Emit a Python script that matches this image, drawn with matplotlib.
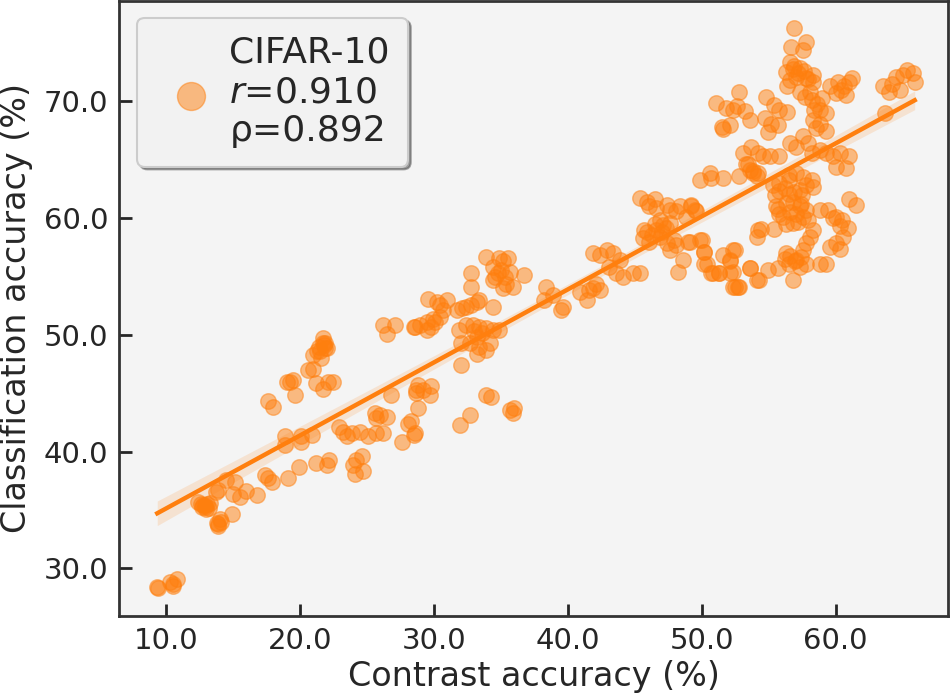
import numpy as np
import matplotlib
matplotlib.use("Agg")
import matplotlib.pyplot as plt

# ---- data (contrast acc, classification acc) ----
contrast_acc = [
    9.35, 10.3, 10.55, 10.8, 10.5, 9.4,
    12.4, 12.8, 13.0, 13.3, 12.9, 12.7, 13.1, 12.9, 13.2, 12.6,
    13.8, 14.0, 13.9, 14.9, 13.9, 14.1,
    13.7, 13.9,
    14.5, 15.15, 15.0, 15.5, 16.0, 16.8,
    17.4, 17.6, 17.9, 19.1, 19.9,
    21.2, 22.0, 22.2,
    24.0, 24.2, 24.6, 24.7, 24.1,
    18.9, 18.9, 20.1, 20.1, 20.9,
    22.9, 23.2, 23.5, 23.9, 24.5, 25.1, 25.7, 26.2,
    25.6, 26.0, 26.5, 25.7,
    26.8, 27.6, 28.1, 28.5, 28.7,
    26.2, 26.5, 27.1, 28.6,
    17.6, 18.0,
    19.25, 19.5, 19.6, 19.0,
    20.6, 21.0, 21.2, 21.7, 22.1, 22.5,
    21.0, 21.4, 21.7, 22.0, 21.6, 21.9, 21.8, 21.5, 21.7, 21.9, 21.3,
    # middle
    28.5, 29.0, 29.5, 29.95, 29.5, 29.8,
    29.6, 30.2, 30.45, 30.7, 30.95, 30.45, 30.1,
    31.7, 32.1, 32.4, 32.8, 33.2, 33.4, 34.4,
    32.8, 32.8,
    33.9, 34.4, 34.9, 35.2, 35.55, 35.7, 35.9, 36.7, 34.8, 35.4, 35.2, 34.4,
    35.0, 35.3, 34.6,
    31.9, 32.4, 32.9, 33.4, 33.9, 34.4, 34.9, 33.2, 32.7, 33.4, 33.9, 32.05, 33.2, 34.2,
    33.6, 33.0,
    32.05,
    38.4, 38.2, 38.9, 39.5, 40.9,
    28.8, 28.7, 29.2, 29.7, 29.8, 28.8, 28.3, 28.6,
    33.9, 34.3,
    32.7, 31.95,
    35.7, 36.0, 35.9,
    # 40-55
    49.85, 50.6, 50.7, 51.6, 52.8, 53.3, 53.8, 54.1,
    45.4, 45.9, 46.5, 46.6, 46.1,
    47.4, 47.6, 48.1, 49.2, 49.6, 48.85,
    46.9, 47.1, 46.6, 47.6, 45.7, 45.6, 46.1, 46.9, 47.4, 47.9, 48.1, 47.6,
    46.5, 47.0, 46.3, 47.3, 45.9,
    49.1, 50.0, 50.2, 50.4, 48.6, 48.2, 51.6, 52.3, 52.1, 50.85, 51.3, 52.1, 52.3, 52.8, 53.6, 54.1,
    41.9, 42.4, 42.9, 43.4, 43.9, 43.1, 43.6, 44.1, 44.9, 45.4, 42.1, 41.6, 42.4, 41.4, 41.9,
    39.65,
    # upper right
    56.9, 57.8, 57.55, 56.7,
    56.6, 56.9, 56.3, 57.3, 57.05, 57.8, 58.3, 58.3, 56.4,
    56.8, 57.2, 57.6, 57.9, 56.6, 58.1, 58.6, 59.0,
    51.1, 51.8, 52.3, 52.8, 52.6, 53.2, 53.6, 51.5, 52.1, 51.6,
    54.8, 55.4, 55.8, 56.4, 54.7, 55.2, 54.95, 55.7,
    57.3, 57.7, 58.2, 58.4, 58.8, 59.3, 58.3, 58.8, 58.55, 59.3,
    59.6, 60.2, 60.6, 61.2, 60.8, 60.0, 61.0, 60.4,
    63.5, 64.0, 64.5, 64.8, 65.3, 65.75, 65.9, 64.2, 65.0,
    63.65,
    53.45, 53.6, 53.1, 53.7, 54.2, 54.6, 55.1, 55.8, 53.8, 54.2,
    56.6, 57.05, 57.55, 57.9, 58.2, 58.8, 59.3,
    59.8, 60.3, 61.0, 60.05, 60.8,
    55.3, 55.8, 56.55, 57.05, 57.55, 58.2, 55.8, 56.55, 57.3, 57.8, 58.3,
    55.55, 55.8, 56.3, 56.8, 57.3, 57.8, 56.05, 56.8, 57.55, 57.9, 57.05,
    55.5, 56.2, 56.9, 57.5, 55.7, 56.6, 57.4, 56.3, 57.2, 56.5,
    58.8, 59.4, 60.05, 60.5, 61.0, 61.5, 60.9, 60.3, 59.8,
    54.2, 54.1, 54.45, 55.4, 58.05, 57.8, 57.55, 58.3, 59.55, 60.05, 60.55, 60.3,
    56.3, 56.55, 57.05, 57.3, 56.8, 57.8, 58.8, 59.3,
    56.2, 56.6, 57.0, 57.4,
    53.6, 54.3, 54.95, 55.7,
    52.1, 52.5, 52.3, 52.5, 52.7, 51.3, 50.7, 50.2, 50.2, 49.85,
    48.4, 49.2, 49.5, 49.0,
]
classification_acc = [
    28.4, 28.85, 28.5, 29.1, 28.7, 28.3,
    35.7, 35.4, 35.1, 35.6, 35.4, 35.3, 35.5, 35.3, 35.2, 35.5,
    33.9, 34.2, 33.6, 34.7, 33.8, 34.0,
    36.5, 36.7,
    37.6, 37.4, 36.4, 36.1, 36.6, 36.3,
    38.0, 37.7, 37.4, 37.7, 38.7,
    39.0, 38.85, 39.3,
    38.85, 39.3, 39.6, 38.3, 38.1,
    41.3, 40.6, 41.3, 40.85, 41.4,
    42.1, 41.7, 41.3, 41.6, 41.7, 41.3, 41.6, 41.6,
    43.3, 43.1, 43.0, 42.85,
    44.85, 40.85, 42.4, 41.4, 45.3,
    50.85, 50.1, 50.85, 50.7,
    44.3, 43.85,
    46.0, 46.1, 44.85, 46.0,
    47.0, 47.1, 45.85, 45.4, 46.0, 46.0,
    48.3, 49.0, 49.7, 48.85, 48.0, 49.3, 49.1, 48.6, 49.3, 48.9, 48.6,
    # middle
    50.7, 50.85, 51.1, 51.4, 50.4, 50.7,
    53.1, 52.85, 52.6, 52.1, 53.0, 51.55, 51.1,
    52.1, 52.3, 52.4, 52.6, 52.85, 53.0, 52.4,
    55.3, 54.1,
    56.7, 55.85, 56.6, 56.3, 56.6, 55.4, 54.1, 55.1, 55.3, 54.4, 54.0, 54.7,
    55.6, 55.0, 55.0,
    50.4, 50.85, 50.85, 50.7, 50.55, 50.4, 50.4, 49.85, 49.3, 49.0, 48.7, 49.3, 48.4, 49.3,
    50.2, 50.3,
    47.4,
    54.1, 53.0, 53.4, 52.1, 53.7,
    45.7, 45.0, 45.3, 44.85, 45.6, 43.7, 42.6, 41.6,
    44.85, 44.7,
    43.1, 42.3,
    43.6, 43.7, 43.3,
    # 40-55
    63.3, 63.85, 63.4, 63.4, 63.6, 64.6, 64.0, 63.6,
    61.7, 61.4, 61.6, 60.85, 61.0,
    61.1, 60.7, 60.6, 61.0, 60.6, 60.1,
    59.85, 59.4, 59.0, 59.6, 59.0, 58.3, 58.0, 58.4, 57.85, 58.1, 57.7, 57.3,
    59.5, 58.8, 58.6, 59.2, 58.8,
    58.0, 58.1, 57.1, 56.1, 56.4, 55.4, 56.85, 57.3, 56.4, 55.3, 55.3, 55.3, 54.1, 54.1, 55.7, 54.7,
    57.0, 56.85, 57.3, 57.0, 56.4, 55.85, 55.3, 55.0, 55.3, 55.3, 54.4, 53.85, 53.85, 53.0, 54.0,
    52.4,
    # upper right
    76.3, 75.1, 74.4, 74.7,
    73.4, 73.0, 72.55, 72.85, 72.1, 72.0, 72.3, 71.7, 71.3,
    72.8, 72.4, 72.6, 71.9, 71.8, 70.8, 69.8, 70.3,
    69.85, 69.4, 69.3, 70.85, 69.6, 69.15, 68.4, 67.85, 68.0, 67.6,
    70.4, 69.7, 69.3, 69.1, 68.6, 68.1, 67.4, 68.0,
    70.85, 70.4, 70.1, 69.3, 69.3, 69.0, 68.4, 68.1, 67.7, 67.5,
    71.3, 71.7, 71.3, 72.0, 70.55, 70.7, 71.7, 71.0,
    71.3, 70.85, 72.1, 71.0, 72.7, 72.4, 71.7, 71.5, 72.3,
    69.0,
    64.6, 64.15, 65.55, 66.1, 65.55, 65.3, 65.3, 65.3, 63.85, 63.85,
    66.4, 66.1, 67.0, 66.4, 65.55, 65.85, 65.55,
    65.3, 65.55, 65.3, 64.4, 64.3,
    62.85, 63.0, 63.3, 63.85, 63.55, 63.3, 62.3, 62.1, 62.4, 62.85, 62.7,
    61.0, 60.4, 61.3, 61.4, 61.0, 60.7, 60.1, 59.6, 60.1, 59.85, 60.4,
    62.0, 62.6, 62.2, 62.0, 60.8, 60.5, 61.2, 59.5, 59.7, 63.7,
    60.7, 60.7, 60.1, 59.85, 61.6, 61.15, 59.15, 59.3, 60.0,
    59.0, 58.4, 59.1, 59.1, 58.4, 57.85, 57.3, 59.0, 57.55, 57.85, 58.4, 57.4,
    57.0, 56.1, 56.4, 55.85, 54.7, 56.1, 56.1, 56.1,
    56.5, 56.8, 56.3, 56.7,
    55.7, 54.7, 55.6, 55.7,
    56.3, 57.3, 55.4, 54.1, 54.1, 55.3, 55.3, 56.1, 57.1, 58.1,
    61.0, 61.1, 60.7, 58.0,
]
x_ticks = [10, 20, 30, 40, 50, 60]
y_ticks = [30, 40, 50, 60, 70]
series_label = "CIFAR-10\n$r$=0.910\n\u03c1=0.892"

x = np.asarray(contrast_acc, dtype=float)
y = np.asarray(classification_acc, dtype=float)

orange = "#ff7f0e"
dark = "#262626"

fig = plt.figure(figsize=(9.52, 6.95), dpi=100)
ax = fig.add_axes([0.1255, 0.114, 0.8705, 0.8845])
ax.set_facecolor("#f4f4f4")

ax.scatter(x, y, s=125, color=orange, alpha=0.5, edgecolor=orange,
           linewidth=1.0, label=series_label, zorder=2)

# linear fit with 95% CI band
slope, intercept = np.polyfit(x, y, 1)
xx = np.linspace(x.min(), x.max(), 200)
yy = slope * xx + intercept
n = len(x)
resid = y - (slope * x + intercept)
s_err = np.sqrt(np.sum(resid ** 2) / (n - 2))
sxx = np.sum((x - x.mean()) ** 2)
ci = 1.97 * s_err * np.sqrt(1.0 / n + (xx - x.mean()) ** 2 / sxx)
ax.fill_between(xx, yy - ci, yy + ci, color=orange, alpha=0.15, linewidth=0, zorder=3)
ax.plot(xx, yy, color=orange, linewidth=3.2, zorder=4)

ax.set_xlim(6.53, 68.4)
ax.set_ylim(25.94, 78.6)
ax.set_xticks(x_ticks)
ax.set_yticks(y_ticks)
ax.set_xticklabels([f"{v:.1f}" for v in x_ticks])
ax.set_yticklabels([f"{v:.1f}" for v in y_ticks])
ax.tick_params(direction="in", length=9, width=2, colors=dark, labelsize=21, pad=8)
for sp in ax.spines.values():
    sp.set_linewidth(2)
    sp.set_color("#333333")

ax.set_xlabel("Contrast accuracy (%)", fontsize=24, color=dark, labelpad=4)
ax.set_ylabel("Classification accuracy (%)", fontsize=24, color=dark, labelpad=8)

leg = ax.legend(loc="upper left", fontsize=26, markerscale=1.8, shadow=True,
                fancybox=True, frameon=True, handletextpad=0.05,
                borderpad=0.5, bbox_to_anchor=(0.0215, 0.973), borderaxespad=0.0,
                labelcolor=dark)
frame = leg.get_frame()
frame.set_facecolor("#f2f2f2")
frame.set_edgecolor("#cccccc")
frame.set_linewidth(1.5)
frame.set_alpha(1.0)
for h in leg.legend_handles:
    h.set_alpha(0.5)

fig.savefig("out.png", dpi=100)
